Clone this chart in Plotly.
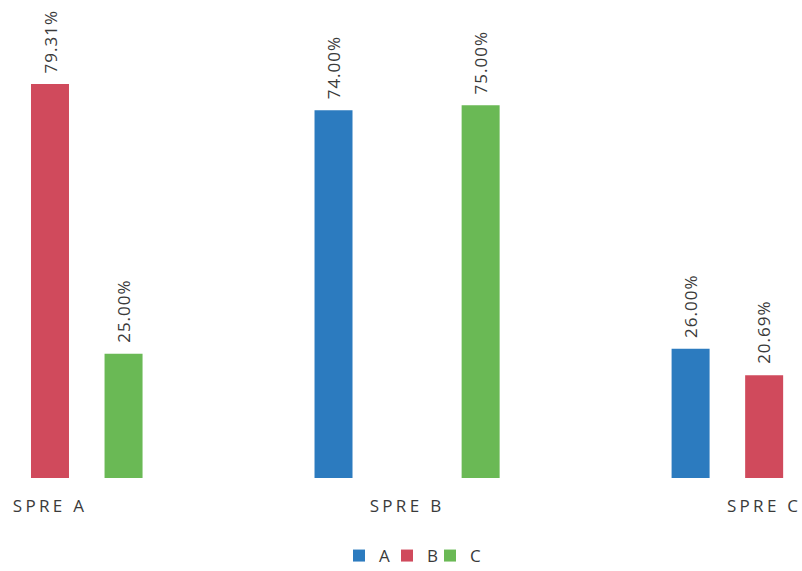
import plotly.graph_objects as go

categories = ["SPRE A", "SPRE B", "SPRE C"]
series_names = ["A", "B", "C"]
values_a = [None, 74.00, 26.00]
values_b = [79.31, None, 20.69]
values_c = [25.00, 75.00, None]
colors = ["#2C7BBF", "#D04A5C", "#6AB955"]

x_pos = list(range(len(categories)))

# bar geometry in category units: three slots per category
bar_width = 0.1064
slot_step = 0.206

# centre of each legend entry, in container pixels
legend_centres = [367, 415, 458]

label_font = dict(family="Open Sans", size=17, color="#3a3a3a")
W, H = 802, 571


def spaced(text, px):
    return f'<span style="letter-spacing:{px}px">{text}</span>'


fig = go.Figure()
annotations = []
legend_ids = ["legend", "legend2", "legend3"]
for i, (name, vals, col) in enumerate(zip(series_names, [values_a, values_b, values_c], colors)):
    centre = (i - 1) * slot_step
    fig.add_trace(go.Bar(
        x=x_pos,
        y=vals,
        name=name,
        width=bar_width,
        offset=centre - bar_width / 2,
        marker=dict(color=col, line=dict(width=0)),
        legend=legend_ids[i],
    ))
    for xc, v in zip(x_pos, vals):
        if v is None:
            continue
        annotations.append(dict(
            x=xc + centre,
            y=v,
            xref="x",
            yref="y",
            text=spaced(f"{v:.2f}%", 1),
            textangle=-90,
            showarrow=False,
            xanchor="center",
            yanchor="bottom",
            yshift=9,
            font=label_font,
        ))

legend_layouts = {}
for lid, cx in zip(legend_ids, legend_centres):
    legend_layouts[lid] = dict(
        orientation="h",
        xref="container",
        yref="container",
        x=cx / W,
        xanchor="center",
        y=1 - 556 / H,
        yanchor="middle",
        font=label_font,
        itemwidth=30,
        bgcolor="rgba(0,0,0,0)",
    )

fig.update_layout(
    width=W,
    height=H,
    barmode="group",
    plot_bgcolor="white",
    paper_bgcolor="white",
    margin=dict(l=0, r=0, t=0, b=93, autoexpand=False),
    annotations=annotations,
    showlegend=True,
    **legend_layouts,
    xaxis=dict(
        tickmode="array",
        tickvals=x_pos,
        ticktext=[spaced(c, 3.3) for c in categories],
        range=[-0.14, 2.106],
        showgrid=False,
        zeroline=False,
        showline=False,
        ticks="",
        automargin=False,
        ticklabelstandoff=16,
        tickfont=label_font,
    ),
    yaxis=dict(
        range=[0, 96.2],
        showgrid=False,
        zeroline=False,
        showline=False,
        showticklabels=False,
        automargin=False,
    ),
)

fig.write_html("out.html")
